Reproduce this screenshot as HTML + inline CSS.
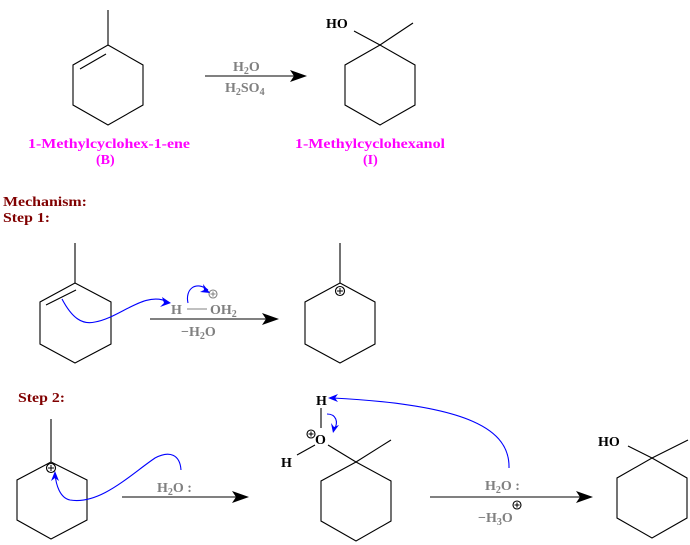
<!DOCTYPE html>
<html><head><style>
body{margin:0;background:#fff;}
svg{display:block;}
text{font-family:"Liberation Serif",serif;font-weight:bold;}
.g{fill:#808080;font-size:14px;}
.m{fill:#ff00ff;font-size:14px;}
.r{fill:#800000;font-size:14px;}
.k{fill:#000;font-size:14px;}
</style></head><body>
<svg width="690" height="545" viewBox="0 0 690 545">
<g fill="none" stroke="#000" stroke-width="1.1">
<polygon points="108,45 143,65 143,105 108,125 73,105 73,65"/>
<line x1="108" y1="45" x2="108" y2="10"/>
<line x1="80" y1="69" x2="106" y2="54"/>
<line x1="205" y1="76" x2="298" y2="76"/>
<polygon points="380,45 415,65 415,105 380,125 345,105 345,65"/>
<line x1="380" y1="45" x2="413" y2="23"/>
<line x1="380" y1="45" x2="354" y2="31"/>
<polygon points="75,283 111,302 111,344 75,363 40,344 40,302"/>
<line x1="75" y1="283" x2="75" y2="243"/>
<line x1="46" y1="305" x2="76" y2="290"/>
<line x1="150" y1="319" x2="268" y2="319"/>
<line x1="187" y1="309" x2="207" y2="309" stroke="#808080"/>
<polygon points="340,283 375,302 375,344 340,363 305,344 305,302"/>
<line x1="340" y1="283" x2="340" y2="243"/>
<circle cx="340" cy="291" r="4.5"/>
<polygon points="51,462 87,480 87,520 51,539 17,520 17,480"/>
<line x1="51" y1="462" x2="51" y2="419"/>
<circle cx="51" cy="468" r="4.5"/>
<line x1="122" y1="497" x2="238" y2="497"/>
<line x1="321" y1="408" x2="321" y2="428"/>
<line x1="297" y1="455" x2="315" y2="445"/>
<line x1="328" y1="445" x2="356" y2="462"/>
<line x1="356" y1="462" x2="391" y2="440"/>
<polygon points="356,462 391,481 391,521 356,541 321,521 321,481"/>
<circle cx="311" cy="434" r="4"/>
<line x1="430" y1="497" x2="582" y2="497"/>
<circle cx="517" cy="505" r="4"/>
<polygon points="652,458 687,478 687,518 652,538 617,518 617,478"/>
<line x1="652" y1="458" x2="688" y2="440"/>
<line x1="628" y1="446" x2="652" y2="458"/>
<circle cx="213" cy="294" r="4" stroke="#808080"/>
</g>
<g stroke="#000" stroke-width="1">
<line x1="337" y1="291" x2="343" y2="291"/><line x1="340" y1="288" x2="340" y2="294"/>
<line x1="48" y1="468" x2="54" y2="468"/><line x1="51" y1="465" x2="51" y2="471"/>
<line x1="308.5" y1="434" x2="313.5" y2="434"/><line x1="311" y1="431.5" x2="311" y2="436.5"/>
<line x1="514.5" y1="505" x2="519.5" y2="505"/><line x1="517" y1="502.5" x2="517" y2="507.5"/>
</g>
<g stroke="#808080" stroke-width="1"><line x1="210.5" y1="294" x2="215.5" y2="294"/><line x1="213" y1="291.5" x2="213" y2="296.5"/></g>
<g fill="#000">
<polygon points="307,76 290,70 294,76 290,82"/>
<polygon points="279,319 262,313 266,319 262,325"/>
<polygon points="249,497 232,491 236,497 232,503"/>
<polygon points="593,497 576,491 580,497 576,503"/>
</g>
<g fill="none" stroke="#0000ff" stroke-width="1.1">
<path d="M62,299 C72,318 82,325 95,322 C120,318 145,290 168,302"/>
<path d="M188,303 C185,290 195,280 208,290"/>
<path d="M181,470 C180,455 170,450 155,458 C130,475 100,505 70,500 C60,498 56,485 55,474"/>
<path d="M509,468 C510,430 470,405 333,398"/>
<path d="M327,414 C336,414 339,422 334,430"/>
</g>
<g fill="#0000ff">
<polygon points="171,303 162,297 164,303 160,307"/>
<polygon points="210,293 203,284 204,290 200,292"/>
<polygon points="55,471 51,481 55,478 59,481"/>
<polygon points="328,398 338,394 335,398 338,402"/>
<polygon points="333,433 331,423 334,427 339,425"/>
</g>
<text class="g" x="233" y="71">H<tspan font-size="10" dy="3">2</tspan><tspan dy="-3">O</tspan></text>
<text class="g" x="225" y="92">H<tspan font-size="10" dy="3">2</tspan><tspan dy="-3">SO</tspan><tspan font-size="10" dy="3">4</tspan></text>
<text class="k" x="326" y="28">HO</text>
<text class="m" x="28" y="148" textLength="162" lengthAdjust="spacingAndGlyphs">1-Methylcyclohex-1-ene</text>
<text class="m" x="96" y="164">(B)</text>
<text class="m" x="295" y="148" textLength="150" lengthAdjust="spacingAndGlyphs">1-Methylcyclohexanol</text>
<text class="m" x="363" y="164">(I)</text>
<text class="r" x="3" y="206" textLength="84" lengthAdjust="spacingAndGlyphs">Mechanism:</text>
<text class="r" x="3" y="222" textLength="47" lengthAdjust="spacingAndGlyphs">Step 1:</text>
<text class="g" x="171" y="314">H</text>
<text class="g" x="210" y="314">OH<tspan font-size="10" dy="3">2</tspan></text>
<text class="g" x="181" y="336">−H<tspan font-size="10" dy="3">2</tspan><tspan dy="-3">O</tspan></text>
<text class="r" x="18" y="402" textLength="47" lengthAdjust="spacingAndGlyphs">Step 2:</text>
<text class="g" x="157" y="492">H<tspan font-size="10" dy="3">2</tspan><tspan dy="-3">O :</tspan></text>
<text class="k" x="316" y="405">H</text>
<text class="k" x="315" y="444">O</text>
<text class="k" x="281" y="467">H</text>
<text class="g" x="485" y="490">H<tspan font-size="10" dy="3">2</tspan><tspan dy="-3">O :</tspan></text>
<text class="g" x="478" y="522">−H<tspan font-size="10" dy="3">3</tspan><tspan dy="-3">O</tspan></text>
<text class="k" x="598" y="446">HO</text>
</svg>
</body></html>
